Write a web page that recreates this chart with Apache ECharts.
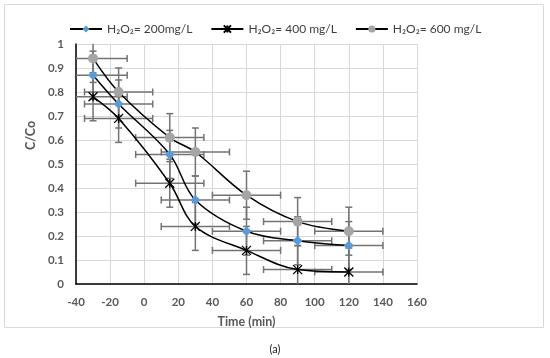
<!DOCTYPE html>
<html>
<head>
<meta charset="utf-8">
<script src="https://cdn.jsdelivr.net/npm/echarts@6/dist/echarts.min.js"></script>
<style>html,body{margin:0;padding:0;background:#fff;}#chart{width:550px;height:358px;}</style>
</head>
<body>
<div id="chart"></div>
<script>
var seriesNames = ['H₂O₂= 200mg/L', 'H₂O₂= 400 mg/L', 'H₂O₂= 600 mg/L'];
var times = [-30, -15, 15, 30, 60, 90, 120];
var c200 = [0.87, 0.75, 0.54, 0.35, 0.22, 0.18, 0.16];
var c400 = [0.78, 0.69, 0.42, 0.24, 0.14, 0.06, 0.05];
var c600 = [0.94, 0.80, 0.61, 0.55, 0.37, 0.26, 0.22];
var errTime = [20, 20, 20, 20, 20, 20, 20];
var errC = [0.1, 0.1, 0.1, 0.1, 0.1, 0.1, 0.1];
var xTicks = [-40, -20, 0, 20, 40, 60, 80, 100, 120, 140, 160];
var yTicks = [0, 0.1, 0.2, 0.3, 0.4, 0.5, 0.6, 0.7, 0.8, 0.9, 1];

var FONT = 'Lato, "Liberation Sans", sans-serif';
var starPath = 'path://M0,0L10,10M10,0L0,10M5,0L5,10';

function pts(vals) { return times.map(function (t, i) { return [t, vals[i]]; }); }
function errPts(vals) { return times.map(function (t, i) { return [t, vals[i], errTime[i], errC[i]]; }); }

function renderErr(params, api) {
  var x = api.value(0), y = api.value(1), ex = api.value(2), ey = api.value(3);
  var l = api.coord([x - ex, y]), r = api.coord([x + ex, y]);
  var t = api.coord([x, y + ey]), b = api.coord([x, y - ey]);
  var cap = 3.5;
  var st = { stroke: '#737373', lineWidth: 1.5 };
  function ln(x1, y1, x2, y2) { return { type: 'line', shape: { x1: x1, y1: y1, x2: x2, y2: y2 }, style: st }; }
  return {
    type: 'group',
    children: [
      ln(l[0], l[1], r[0], r[1]),
      ln(l[0], l[1] - cap, l[0], l[1] + cap),
      ln(r[0], r[1] - cap, r[0], r[1] + cap),
      ln(t[0], t[1], b[0], b[1]),
      ln(t[0] - cap, t[1], t[0] + cap, t[1]),
      ln(b[0] - cap, b[1], b[0] + cap, b[1])
    ]
  };
}

var chart = echarts.init(document.getElementById('chart'));
var smoothVal = 0.35;
chart.setOption({
  animation: false,
  backgroundColor: '#fff',
  graphic: [{
    type: 'rect', shape: { x: 4.5, y: 4.5, width: 539, height: 323 },
    style: { fill: 'none', stroke: '#d9d9d9', lineWidth: 1 }, z: -10
  }],
  title: {
    text: '(a)', left: 'center', top: 339,
    textStyle: { fontFamily: FONT, fontSize: 11, fontWeight: 'normal', color: '#222' }
  },
  legend: {
    data: seriesNames,
    left: 64, top: 18,
    itemWidth: 32, itemHeight: 9, itemGap: 18,
    textStyle: { fontFamily: FONT, fontSize: 12, color: '#404040' }
  },
  grid: { left: 76, right: 133, top: 44, bottom: 74, containLabel: false },
  xAxis: {
    type: 'value', min: -40, max: 160, interval: 20,
    name: 'Time (min)', nameLocation: 'middle', nameGap: 31,
    nameTextStyle: { fontFamily: FONT, fontSize: 12.5, fontWeight: 'bold', color: '#595959' },
    axisLine: { show: true, onZero: false, lineStyle: { color: '#000', width: 1.5 } },
    axisTick: { show: false },
    axisLabel: { fontFamily: FONT, fontSize: 11.5, fontWeight: 'bold', color: '#595959', margin: 12 },
    splitLine: { show: true, lineStyle: { color: '#d9d9d9', width: 1 } }
  },
  yAxis: {
    type: 'value', min: 0, max: 1, interval: 0.1,
    name: 'C/Co', nameLocation: 'middle', nameGap: 36,
    nameTextStyle: { fontFamily: FONT, fontSize: 12.5, fontWeight: 'bold', color: '#595959', padding: [0, 0, 0, 57] },
    axisLine: { show: true, onZero: false, lineStyle: { color: '#000', width: 1.5 } },
    axisTick: { show: false },
    axisLabel: { fontFamily: FONT, fontSize: 11.5, fontWeight: 'bold', color: '#595959', margin: 12 },
    splitLine: { show: true, lineStyle: { color: '#d9d9d9', width: 1 } }
  },
  series: [
    { type: 'custom', name: 'err200', data: errPts(c200), renderItem: renderErr, clip: true, z: 1, silent: true },
    { type: 'custom', name: 'err400', data: errPts(c400), renderItem: renderErr, clip: true, z: 1, silent: true },
    { type: 'custom', name: 'err600', data: errPts(c600), renderItem: renderErr, clip: true, z: 1, silent: true },
    {
      type: 'line', name: seriesNames[0], data: pts(c200), smooth: smoothVal, z: 3,
      symbol: 'diamond', symbolSize: 10, showAllSymbol: true,
      lineStyle: { color: '#000', width: 1.5 },
      itemStyle: { color: '#5B9BD5', borderColor: '#5B9BD5', borderWidth: 0 }
    },
    {
      type: 'line', name: seriesNames[1], data: pts(c400), smooth: smoothVal, z: 3,
      symbol: starPath, symbolSize: 9, showAllSymbol: true,
      lineStyle: { color: '#000', width: 1.5 },
      itemStyle: { color: 'rgba(0,0,0,0)', borderColor: '#000', borderWidth: 1.3 }
    },
    {
      type: 'line', name: seriesNames[2], data: pts(c600), smooth: smoothVal, z: 3,
      symbol: 'circle', symbolSize: 10, showAllSymbol: true,
      lineStyle: { color: '#000', width: 1.5 },
      itemStyle: { color: '#A5A5A5', borderColor: '#A5A5A5', borderWidth: 0 }
    }
  ]
});
</script>
</body>
</html>
